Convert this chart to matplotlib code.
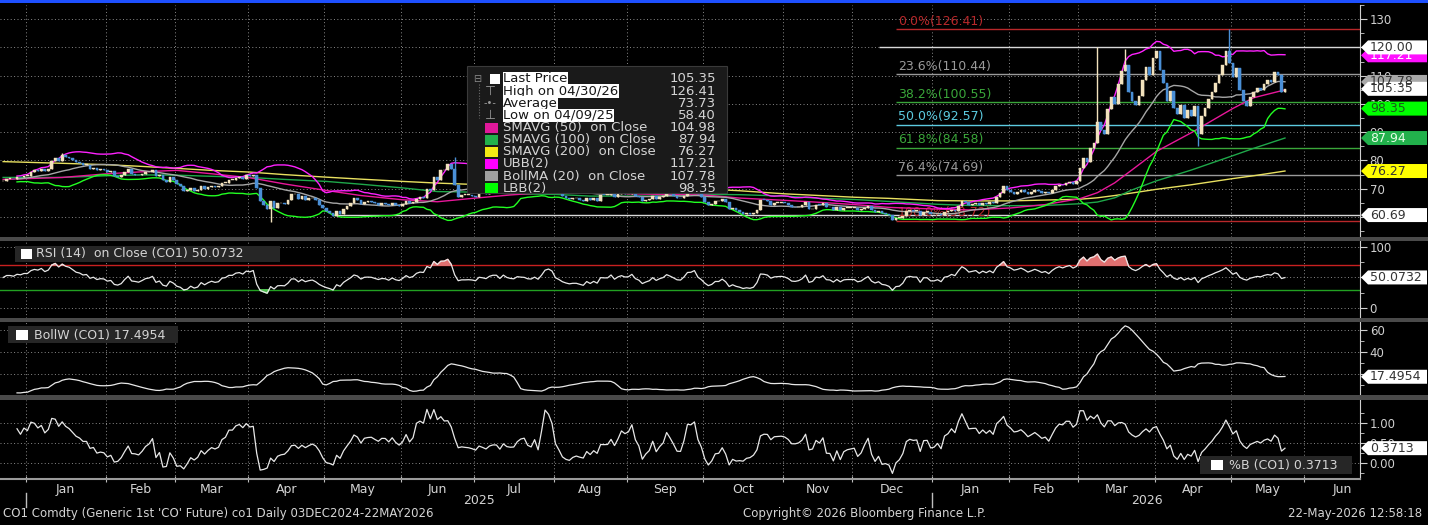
import matplotlib
matplotlib.use('Agg')
import matplotlib.pyplot as plt
import numpy as np
import pandas as pd
from matplotlib.patches import Polygon, Rectangle

W, H = 1441, 525

# CO1 daily closes, one per business day, 23DEC2024 - 22MAY2026
close_prices = (
    [72.6, 73.6, 73.6, 73.3, 74.2, 74.0, 74.6]  # Dec 24
    + [74.6, 75.9, 76.5, 76.3, 77.1, 76.2, 76.9, 79.8, 81.0, 79.9, 82.0, 81.3,
       81.0, 80.2, 79.3, 79.0, 78.3, 78.5, 77.1, 77.5, 76.6, 76.9, 76.8]  # Jan 25
    + [76.0, 76.2, 74.6, 74.3, 74.7, 75.9, 77.0, 75.2, 75.0, 74.7, 75.2, 75.8,
       76.0, 76.5, 74.4, 74.8, 73.0, 72.5, 74.0, 73.2]  # Feb
    + [71.6, 71.0, 69.3, 69.5, 70.4, 69.3, 69.6, 71.0, 69.9, 70.6, 71.1, 70.6,
       70.8, 72.0, 72.2, 73.0, 73.0, 73.8, 74.0, 73.6, 74.7]  # Mar
    + [74.5, 75.0, 70.1, 65.6, 64.2, 62.8, 65.5, 63.3, 64.8, 64.9, 64.7, 65.9,
       68.0, 68.0, 66.3, 67.4, 66.1, 66.6, 66.9, 65.9, 64.3, 63.1]  # Apr
    + [62.1, 61.3, 60.2, 62.2, 61.1, 62.8, 63.9, 65.0, 66.6, 66.1, 64.5, 65.4,
       65.5, 65.4, 64.9, 64.4, 64.8, 64.7, 64.1, 64.9, 64.2, 63.9]  # May
    + [64.6, 65.6, 64.9, 65.3, 66.5, 67.0, 66.9, 69.8, 69.4, 74.2, 73.2, 76.5,
       76.7, 78.9, 77.0, 71.5, 67.1, 67.7, 67.7, 67.8, 67.6]  # Jun
    + [67.1, 69.1, 68.8, 68.3, 69.6, 70.2, 70.2, 68.6, 70.4, 69.2, 68.7, 68.5,
       69.5, 69.3, 69.2, 68.6, 68.5, 69.2, 68.4, 70.0, 72.5, 73.2, 72.5]  # Jul
    + [69.7, 68.8, 67.6, 66.9, 66.4, 66.6, 66.6, 66.1, 65.6, 66.8, 65.9, 66.6,
       65.8, 67.8, 67.7, 67.7, 68.8, 67.2, 68.1, 68.6, 68.1]  # Aug
    + [68.2, 69.1, 67.6, 67.0, 65.5, 66.0, 66.4, 67.5, 66.4, 67.0, 67.4, 68.5,
       68.0, 67.4, 66.7, 66.6, 67.6, 69.3, 69.4, 70.1, 68.0, 67.0]  # Sep
    + [65.4, 64.1, 64.5, 65.5, 65.5, 66.3, 65.2, 62.7, 63.3, 62.4, 61.9, 61.1,
       61.3, 61.0, 61.3, 62.6, 66.0, 65.9, 65.6, 64.4, 64.9, 65.0, 65.1]  # Oct
    + [64.9, 64.4, 63.5, 63.4, 63.6, 64.1, 65.2, 62.7, 63.0, 64.4, 64.2, 64.9,
       63.5, 63.4, 62.6, 63.4, 62.5, 63.1, 63.2, 63.2]  # Nov
    + [63.2, 62.5, 62.7, 63.3, 63.8, 62.5, 61.9, 62.2, 61.3, 61.1, 60.6, 58.9,
       59.7, 59.8, 60.5, 62.1, 62.4, 62.2, 62.2, 60.6, 61.9, 61.9, 60.9]  # Dec
    + [60.9, 61.2, 60.6, 61.8, 62.0, 62.6, 62.3, 63.9, 65.7, 65.2, 64.3, 64.6,
       64.9, 64.2, 65.0, 64.6, 65.3, 64.8, 67.2, 68.6, 70.9, 69.4]  # Jan 26
    + [69.0, 68.3, 68.7, 69.4, 68.9, 68.2, 68.8, 69.5, 69.1, 68.6, 69.0, 68.4,
       69.7, 70.8, 71.5, 71.2, 71.9, 72.4, 71.8, 72.6]  # Feb
    + [77.2, 80.9, 79.6, 84.3, 86.1, 93.7, 90.8, 89.4, 98.2, 102.4, 100.1, 106.9,
       111.8, 113.6, 104.3, 101.2, 99.6, 102.8, 108.5, 112.9, 110.4, 116.2]  # Mar
    + [118.6, 112.1, 107.3, 100.9, 104.6, 98.7, 96.4, 99.8, 95.2, 97.9, 95.6, 99.1,
       89.3, 95.8, 98.4, 101.6, 104.2, 107.5, 110.3, 113.8, 118.9, 114.6]  # Apr
    + [109.4, 112.7, 104.8, 101.2, 99.3, 102.5, 104.1, 105.6, 104.9, 107.2, 108.6,
       107.8, 111.4, 110.2, 104.1, 105.35]  # May
)

# intraday extremes that stick out of the bodies
wick_high_dates = ['2025-01-15', '2025-06-23', '2026-03-09', '2026-03-19', '2026-04-30']
wick_high_vals = [82.6, 81.4, 120.0, 119.6, 126.41]
wick_low_dates = ['2025-04-09', '2026-04-17']
wick_low_vals = [58.40, 85.2]

# moving averages
ma_dates = ['2024-12-23', '2025-01-15', '2025-02-03', '2025-02-17', '2025-03-03', '2025-03-17',
            '2025-04-01', '2025-04-15', '2025-05-01', '2025-05-15', '2025-06-02', '2025-06-16',
            '2025-07-01', '2025-07-15', '2025-08-01', '2025-08-15', '2025-09-01', '2025-09-15',
            '2025-10-01', '2025-10-15', '2025-11-03', '2025-11-17', '2025-12-01', '2025-12-15',
            '2026-01-02', '2026-01-15', '2026-02-02', '2026-02-16', '2026-03-02', '2026-03-09',
            '2026-03-16', '2026-03-23', '2026-04-01', '2026-04-15', '2026-05-01', '2026-05-11',
            '2026-05-22']
sma50 = [73.3, 74.0, 75.3, 76.0, 76.5, 75.3, 73.9, 71.7, 69.4, 67.6, 66.1, 65.4, 66.7, 67.8,
         68.9, 69.3, 68.2, 68.0, 67.8, 66.7, 65.9, 65.2, 64.4, 63.4, 62.8, 62.5, 63.2, 64.4,
         66.5, 68.6, 72.1, 76.7, 83.2, 89.8, 98.4, 102.2, 104.98]
sma100 = [74.0, 74.0, 74.6, 74.9, 74.8, 74.4, 74.0, 73.3, 72.6, 71.6, 70.3, 69.0, 68.8, 68.2,
          68.0, 67.4, 67.4, 67.4, 68.0, 67.9, 67.4, 66.6, 66.2, 65.5, 64.5, 64.1, 64.0, 64.1,
          64.7, 65.3, 66.8, 69.6, 72.8, 76.6, 81.7, 84.3, 87.94]
sma200 = [79.6, 79.0, 78.5, 77.9, 77.2, 76.5, 75.9, 75.0, 74.1, 73.4, 72.6, 72.0, 71.5, 71.1,
          70.8, 70.5, 70.3, 70.1, 69.9, 69.3, 68.2, 67.6, 67.0, 66.6, 65.8, 65.7, 65.7, 66.0,
          66.3, 66.8, 67.6, 68.5, 69.8, 71.4, 73.6, 74.6, 76.27]
# average daily up/down move before the first bar, seeds the RSI smoothing
rsi_seed_move = 0.6

# fibonacci retracement and drawn lines
fib_labels = ['0.0%(126.41)', '23.6%(110.44)', '38.2%(100.55)', '50.0%(92.57)',
              '61.8%(84.58)', '76.4%(74.69)', '100.0%(58.72)']
fib_levels = [126.41, 110.44, 100.55, 92.57, 84.58, 74.69, 58.72]
fib_colors = ['#b8282a', '#9a9a9a', '#3aa63a', '#5ccbe0', '#3aa63a', '#9a9a9a', '#b8282a']
fib_start = '2025-12-17'
hline_levels = [120.00, 60.69]
hline_starts = ['2025-12-10', '2025-05-05']

legend_labels = ['Last Price', 'High on 04/30/26', 'Average', 'Low on 04/09/25',
                 'SMAVG (50)  on Close', 'SMAVG (100)  on Close', 'SMAVG (200)  on Close',
                 'UBB(2)', 'BollMA (20)  on Close', 'LBB(2)']
legend_values = ['105.35', '126.41', '73.73', '58.40', '104.98', '87.94', '76.27',
                 '117.21', '107.78', '98.35']

tag_vals = [117.21, 120.00, 107.78, 105.35, 98.35, 87.94, 76.27, 60.69]
tag_face = ['#ff10ff', '#ffffff', '#a8a8a8', '#ffffff', '#00ff00', '#22b14c', '#ffff00', '#ffffff']
tag_text = ['#ffffff', '#333333', '#333333', '#333333', '#1a5c1a', '#e8ffe8', '#333333', '#333333']

C_UP, C_DN = '#f2e2bd', '#4a8fd6'
C_50, C_100, C_200 = '#e8179a', '#1fa84a', '#e8e060'
C_UBB, C_BMA, C_LBB = '#ff22ff', '#a6a6a6', '#22ff22'
TXT = '#d4d4d4'

plt.rcParams['font.family'] = ['DejaVu Sans']

all_dates = pd.bdate_range('2024-12-23', '2026-06-30')
n = len(close_prices)
x = np.arange(n)
s = pd.Series(close_prices, dtype=float)
closes = s.values
opens = np.r_[closes[0], closes[:-1]]
highs = np.maximum(opens, closes)
lows = np.minimum(opens, closes)
highs[all_dates.get_indexer(pd.to_datetime(wick_high_dates))] = wick_high_vals
lows[all_dates.get_indexer(pd.to_datetime(wick_low_dates))] = wick_low_vals

# indicators
ma20 = s.rolling(20, min_periods=5).mean()
sd20 = s.rolling(20, min_periods=5).std(ddof=0)
ubb = ma20 + 2 * sd20
lbb = ma20 - 2 * sd20
bollw = (ubb - lbb) / ma20 * 100
pctb = (s - lbb) / (ubb - lbb)

moves = np.r_[0.0, np.diff(closes)]
g = l = rsi_seed_move
rsi = np.empty(n)
for i, m in enumerate(moves):
    g = (g * 13 + max(m, 0)) / 14
    l = (l * 13 + max(-m, 0)) / 14
    rsi[i] = 100 - 100 / (1 + g / l)

ma_x = all_dates.get_indexer(pd.to_datetime(ma_dates))

# month layout on the trading-day axis
per = all_dates.to_period('M')
m_first, m_last, m_name = [], [], []
for p in per.unique():
    ids = np.where(per == p)[0]
    m_first.append(ids[0])
    m_last.append(ids[-1])
    m_name.append(p.strftime('%b'))
bounds = [f - 0.5 for f in m_first[1:]]
centers = [(f + l) / 2 for f, l in zip(m_first[1:], m_last[1:])]
XL = (-0.9, 390.6)

fig = plt.figure(figsize=(W / 100, H / 100), dpi=100, facecolor='black')


def fbox(x0, y0, x1, y1):
    return [x0 / W, 1 - y1 / H, (x1 - x0) / W, (y1 - y0) / H]


def frect(x0, y0, x1, y1, color, z=1, ec='none'):
    fig.add_artist(Rectangle((x0 / W, 1 - y1 / H), (x1 - x0) / W, (y1 - y0) / H,
                             transform=fig.transFigure, facecolor=color, edgecolor=ec,
                             linewidth=0.8, zorder=z))


def ftext(px, py, txt, **kw):
    kw.setdefault('va', 'center')
    kw.setdefault('color', TXT)
    return fig.text(px / W, 1 - py / H, txt, **kw)


def style(ax, ylim, major, minor, labels):
    ax.set_facecolor('black')
    ax.set_xlim(*XL)
    ax.set_ylim(*ylim)
    for side in ['top', 'left', 'bottom']:
        ax.spines[side].set_visible(False)
    ax.spines['right'].set_color('#cfcfcf')
    ax.yaxis.tick_right()
    ax.set_yticks(major)
    ax.set_yticks(minor, minor=True)
    ax.set_yticklabels(labels)
    ax.tick_params(axis='y', which='both', colors='#cfcfcf', labelsize=8.5,
                   direction='out', pad=2)
    ax.tick_params(axis='y', which='major', length=5)
    ax.tick_params(axis='y', which='minor', length=3)
    ax.set_xticks(bounds)
    ax.tick_params(axis='x', which='both', length=0, labelbottom=False)
    ax.grid(True, which='major', color='#8a8a8a', linestyle=(0, (1, 2.5)), linewidth=0.7)
    ax.set_axisbelow(True)


ax_p = fig.add_axes(fbox(0, 5, 1360, 237))
ax_r = fig.add_axes(fbox(0, 241, 1360, 318))
ax_w = fig.add_axes(fbox(0, 322, 1360, 395))
ax_b = fig.add_axes(fbox(0, 400, 1360, 479))

# labels sitting fully under a value tag are left blank, as on the terminal
style(ax_p, (52.93, 134.95), list(range(60, 131, 10)), list(range(55, 136, 10)),
      ['', '70', '80', '90', '100', '110', '', '130'])
style(ax_r, (-16.4, 109.8), [0, 50, 100], [25, 75], ['0', '', '100'])
style(ax_w, (0.9, 67.3), [20, 40, 60], [10, 30, 50], ['', '40', '60'])
style(ax_b, (-0.4, 1.575), [0, 0.5, 1.0], [-0.25, 0.25, 0.75, 1.25], ['0.00', '0.50', '1.00'])

# ---- price panel
for lvl, st in zip(hline_levels, hline_starts):
    i0 = all_dates.get_loc(pd.Timestamp(st))
    ax_p.hlines(lvl, i0, XL[1], color='#d8d8d8', lw=1.0, zorder=1)
f0 = all_dates.get_loc(pd.Timestamp(fib_start))
for lvl, lab, col in zip(fib_levels, fib_labels, fib_colors):
    ax_p.hlines(lvl, f0, XL[1], color=col, lw=1.0, zorder=1)
    ax_p.text(f0 + 0.5, lvl + 0.6, lab, color=col, fontsize=9, va='bottom', ha='left', zorder=2)

ax_p.plot(ma_x, sma200, color=C_200, lw=1.0, zorder=2)
ax_p.plot(ma_x, sma100, color=C_100, lw=1.0, zorder=2)
ax_p.plot(ma_x, sma50, color=C_50, lw=1.0, zorder=2)
ax_p.plot(x, ubb, color=C_UBB, lw=1.0, zorder=2)
ax_p.plot(x, ma20, color=C_BMA, lw=1.0, zorder=2)
ax_p.plot(x, lbb, color=C_LBB, lw=1.0, zorder=2)

up = closes >= opens
cols = np.where(up, C_UP, C_DN)
body = np.maximum(np.abs(closes - opens), 0.3)
ax_p.vlines(x, lows, highs, colors=cols, lw=1.0, zorder=3)
ax_p.bar(x, body, bottom=np.minimum(opens, closes), width=0.78, color=cols,
         edgecolor=cols, linewidth=0.3, zorder=4)

# ---- RSI panel
ax_r.axhline(70, color='#c82020', lw=1.0, zorder=1)
ax_r.axhline(30, color='#22a022', lw=1.0, zorder=1)
ax_r.fill_between(x, rsi, 70, where=rsi >= 70, interpolate=True, color='#e07070', zorder=2)
ax_r.fill_between(x, rsi, 30, where=rsi <= 30, interpolate=True, color='#50c050', zorder=2)
ax_r.plot(x, rsi, color='#e8e8e8', lw=0.9, zorder=3)

ax_w.plot(x, bollw, color='#e8e8e8', lw=0.9, zorder=3)
ax_b.plot(x, pctb, color='#e8e8e8', lw=0.9, zorder=3)

# ---- bottom time axis
ax_b.spines['bottom'].set_visible(True)
ax_b.spines['bottom'].set_color('#9a9a9a')
ax_b.spines['bottom'].set_linewidth(1.5)
ax_b.tick_params(axis='x', which='major', length=5, direction='inout', color='#bdbdbd')
ax_b.set_xticks(centers, minor=True)
ax_b.set_xticklabels(m_name[1:], minor=True)
ax_b.tick_params(axis='x', which='minor', length=0, labelbottom=True, labelsize=9,
                 labelcolor=TXT, pad=3)


def idx_px(i):
    return ax_b.transData.transform((i, 0))[0]


def val_py(ax, v):
    return H - ax.transData.transform((0, v))[1]


for yr in [2025, 2026]:
    ids = np.where(all_dates.year == yr)[0]
    c = (ids[0] + min(ids[-1], XL[1])) / 2
    ftext(idx_px(c), 500, str(yr), ha='center', fontsize=9)
    bx = idx_px(ids[0] - 0.5)
    fig.add_artist(plt.Line2D([bx / W, bx / W], [1 - 493 / H, 1 - 507 / H],
                              transform=fig.transFigure, color='#bdbdbd', lw=1))

ftext(3, 513, "CO1 Comdty (Generic 1st 'CO' Future) co1 Daily 03DEC2024-22MAY2026",
      ha='left', fontsize=8.5)
ftext(743, 513, 'Copyright© 2026 Bloomberg Finance L.P.', ha='left', fontsize=8.5)
ftext(1422, 513, '22-May-2026 12:58:18', ha='right', fontsize=8.5)

# ---- frame pieces
frect(0, 0, 1428, 3, '#1e50ff')
frect(1428, 0, W, H, '#ffffff')
for y0, y1 in [(237, 241), (318, 322), (395, 400)]:
    frect(0, y0, 1428, y1, '#4a4a4a')

# ---- price legend
frect(467, 66, 727, 193, '#1a1a1a', z=2, ec='#3a3a3a')
sw_colors = [None, None, None, None, '#e0189a', '#22b14c', '#f5ea14', '#ff00ff', '#a0a0a0', '#00ff00']
for i, (lab, val) in enumerate(zip(legend_labels, legend_values)):
    yy = 79 + 12.14 * i
    if i < 4:
        ftext(503, yy, lab, ha='left', fontsize=9.5, color='#151515', zorder=4,
              bbox=dict(facecolor='white', edgecolor='none', pad=0.3))
    else:
        ftext(503, yy, lab, ha='left', fontsize=9.5, zorder=4)
        frect(485, yy - 5, 498, yy + 5, sw_colors[i], z=3)
    ftext(716, yy, val, ha='right', fontsize=9.5, zorder=4)
frect(490, 74, 500, 84, '#ffffff', z=3)
ftext(477, 79, '⊟', ha='center', fontsize=7, color='#8a8a8a', zorder=4)
ftext(490, 79 + 12.14, '⊤', ha='center', fontsize=9, color='#9a9a9a', zorder=4)
ftext(490, 79 + 24.28, '-•-', ha='center', fontsize=7, color='#9a9a9a', zorder=4)
ftext(490, 79 + 36.42, '⊥', ha='center', fontsize=9, color='#9a9a9a', zorder=4)
fig.add_artist(plt.Line2D([479 / W, 479 / W], [1 - 84 / H, 1 - 118 / H],
                          transform=fig.transFigure, color='#6a6a6a', lw=0.8,
                          linestyle=(0, (1, 1.5)), zorder=3))

# ---- indicator captions
frect(15, 246, 280, 262, '#262626', z=2)
frect(21, 249, 32, 259, '#ffffff', z=3)
ftext(36, 254, 'RSI (14)  on Close (CO1) 50.0732', ha='left', fontsize=9, zorder=4)
frect(8, 326, 178, 343, '#262626', z=2)
frect(16, 330, 28, 340, '#ffffff', z=3)
ftext(34, 335, 'BollW (CO1) 17.4954', ha='left', fontsize=9, zorder=4)
frect(1200, 456, 1352, 474, '#262626', z=2)
frect(1211, 460, 1223, 470, '#ffffff', z=3)
ftext(1229, 465, '%B (CO1) 0.3713', ha='left', fontsize=9, zorder=4)


# ---- value tags on the right axis
def tag(ax, v, txt, fc, tc):
    yc = val_py(ax, v)
    pts = [(1361, yc), (1368, yc - 7), (1427, yc - 7), (1427, yc + 7), (1368, yc + 7)]
    fig.add_artist(Polygon([(px / W, 1 - py / H) for px, py in pts], closed=True,
                           transform=fig.transFigure, facecolor=fc, edgecolor='none', zorder=5))
    ftext(1370, yc, txt, ha='left', fontsize=9, color=tc, zorder=6)


for v, fc, tc in zip(tag_vals, tag_face, tag_text):
    tag(ax_p, v, f'{v:.2f}', fc, tc)
tag(ax_r, 50.0732, '50.0732', '#ffffff', '#333333')
tag(ax_w, 17.4954, '17.4954', '#ffffff', '#333333')
tag(ax_b, 0.3713, '0.3713', '#ffffff', '#333333')

fig.savefig('out.png', dpi=100, facecolor='black')
